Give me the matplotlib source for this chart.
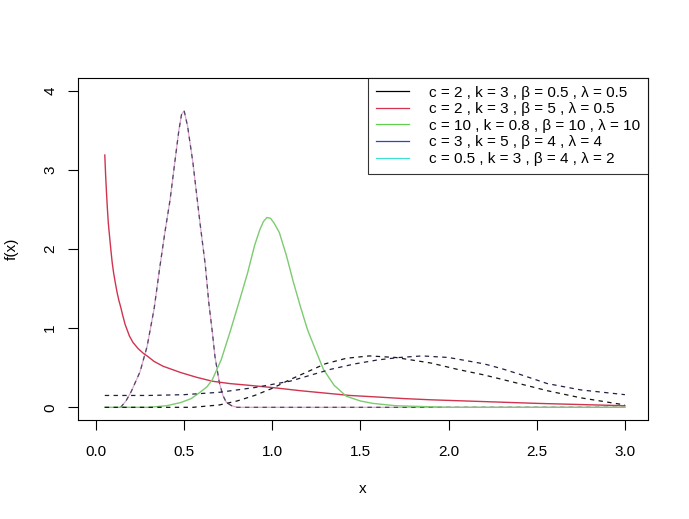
import matplotlib.pyplot as plt

plt.rcParams['font.family'] = ['Liberation Sans', 'DejaVu Sans']

# curves
x_a = [0.14, 0.17, 0.20, 0.25, 0.29, 0.33, 0.36, 0.39, 0.42, 0.45, 0.47, 0.485, 0.50, 0.52, 0.55,
       0.59, 0.62, 0.64, 0.66, 0.675, 0.70, 0.72, 0.74, 0.77, 0.80, 1.0, 1.5, 2.0, 2.5, 3.0]
y_a = [0.0, 0.08, 0.20, 0.45, 0.77, 1.25, 1.74, 2.20, 2.62, 3.15, 3.50, 3.70, 3.75, 3.55, 3.09,
       2.33, 1.80, 1.32, 0.95, 0.64, 0.31, 0.15, 0.06, 0.02, 0.0, 0.0, 0.0, 0.0, 0.0, 0.0]

x_b = [0.05, 0.055, 0.06, 0.065, 0.07, 0.078, 0.085, 0.092, 0.10, 0.11, 0.12, 0.13, 0.14, 0.152,
       0.165, 0.18, 0.19, 0.21, 0.24, 0.27, 0.29, 0.33, 0.38, 0.43, 0.48, 0.57, 0.66, 0.76, 0.86,
       1.0, 1.16, 1.3, 1.44, 1.6, 1.75, 1.9, 2.1, 2.3, 2.5, 2.75, 3.0]
y_b = [3.19, 2.92, 2.70, 2.50, 2.33, 2.14, 1.98, 1.83, 1.70, 1.57, 1.45, 1.35, 1.27, 1.16,
       1.05, 0.96, 0.90, 0.82, 0.74, 0.68, 0.65, 0.58, 0.52, 0.48, 0.44, 0.38, 0.33, 0.30, 0.28,
       0.25, 0.21, 0.18, 0.15, 0.13, 0.11, 0.095, 0.08, 0.065, 0.05, 0.035, 0.02]

x_c = [0.05, 0.30, 0.40, 0.48, 0.54, 0.59, 0.63, 0.66, 0.71, 0.76, 0.81, 0.86, 0.90, 0.93, 0.95,
       0.97, 0.99, 1.01, 1.04, 1.08, 1.12, 1.16, 1.20, 1.25, 1.29, 1.35, 1.42, 1.50, 1.57, 1.70,
       2.0, 2.5, 3.0]
y_c = [0.0, 0.0, 0.02, 0.06, 0.11, 0.19, 0.26, 0.35, 0.60, 0.95, 1.32, 1.70, 2.05, 2.25, 2.35,
       2.40, 2.39, 2.33, 2.21, 1.92, 1.58, 1.27, 0.98, 0.70, 0.48, 0.28, 0.14, 0.08, 0.05, 0.02,
       0.0, 0.0, 0.0]

x_d = [0.05, 0.30, 0.50, 0.70, 0.90, 1.10, 1.33, 1.47, 1.60, 1.72, 1.85, 2.00, 2.10, 2.20, 2.30,
       2.40, 2.56, 2.75, 3.0]
y_d = [0.15, 0.15, 0.16, 0.19, 0.25, 0.33, 0.48, 0.55, 0.60, 0.63, 0.65, 0.63, 0.59, 0.55, 0.49,
       0.42, 0.30, 0.22, 0.16]

x_e = [0.05, 0.30, 0.55, 0.70, 0.80, 0.90, 1.00, 1.10, 1.20, 1.30, 1.42, 1.55, 1.70, 1.90, 2.05,
       2.20, 2.40, 2.56, 2.75, 3.0]
y_e = [0.0, 0.0, 0.0, 0.03, 0.08, 0.15, 0.24, 0.35, 0.45, 0.55, 0.62, 0.65, 0.63, 0.56, 0.48,
       0.41, 0.30, 0.21, 0.12, 0.03]

labels = ['c = 2 , k = 3 , β = 0.5 , λ = 0.5',
          'c = 2 , k = 3 , β = 5 , λ = 0.5',
          'c = 10 , k = 0.8 , β = 10 , λ = 10',
          'c = 3 , k = 5 , β = 4 , λ = 4',
          'c = 0.5 , k = 3 , β = 4 , λ = 2']
colors = ['black', '#D0344F', '#61D04F', '#3A3AD0', '#40E0D0']

fig = plt.figure(figsize=(6.89, 5.19), dpi=100)
ax = fig.add_axes([0.1132, 0.1908, 0.8273, 0.6589])

dash = (0, (3.5, 3.5))
ax.plot(x_a, y_a, color='#E0A8D0', lw=0.9)
ax.plot(x_a, y_a, color='#4A4A66', lw=0.9, ls=dash)
ax.plot(x_b, y_b, color='#D0344F', lw=1.0)
ax.plot(x_c, y_c, color='#7CCB70', lw=1.0)
ax.plot(x_d, y_d, color='#202045', lw=0.9, ls=dash)
ax.plot(x_e, y_e, color='#151515', lw=0.9, ls=dash)

ax.set_xlim(-0.102, 3.131)
ax.set_ylim(-0.16, 4.164)
ax.set_xticks([0.0, 0.5, 1.0, 1.5, 2.0, 2.5, 3.0])
ax.set_xticklabels(['0.0', '0.5', '1.0', '1.5', '2.0', '2.5', '3.0'])
ax.set_yticks([0, 1, 2, 3, 4])
ax.tick_params(labelsize=11, length=7, width=0.8)
ax.tick_params(axis='x', pad=11)
ax.tick_params(axis='y', pad=8)
for lab in ax.get_yticklabels():
    lab.set_rotation(90)
    lab.set_va('center')
for sp in ax.spines.values():
    sp.set_linewidth(0.8)
ax.set_xlabel('x', fontsize=11, va='center')
ax.set_ylabel('f(x)', fontsize=11, va='center')
ax.xaxis.set_label_coords(0.5, -0.2018)
ax.yaxis.set_label_coords(-0.1158, 0.5)

handles = [plt.Line2D([], [], color=c, lw=0.9) for c in colors]
leg = ax.legend(handles, labels, loc='upper right', fontsize=11, frameon=True, fancybox=False,
                borderaxespad=0, handlelength=2.2, handletextpad=1.3, labelspacing=0.17,
                borderpad=0.5)
leg.get_frame().set_edgecolor('black')
leg.get_frame().set_linewidth(0.8)

fig.savefig('out.png', dpi=100)
